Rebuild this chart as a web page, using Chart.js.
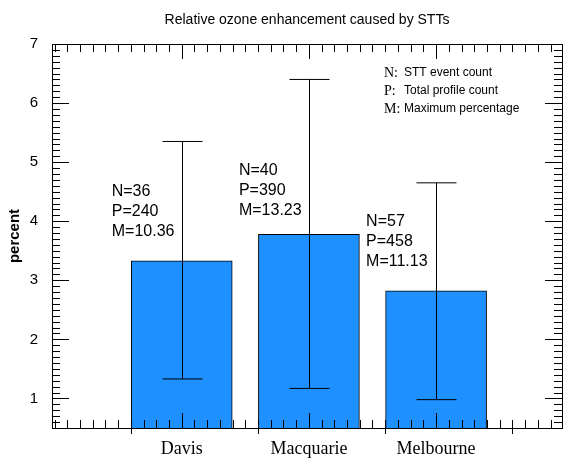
<!DOCTYPE html>
<html><head><meta charset="utf-8">
<script src="https://cdn.jsdelivr.net/npm/chart.js@4"></script>
<style>html,body{margin:0;background:#fff}#c{display:block}</style>
</head><body>
<div style="width:585px;height:464px"><canvas id="c"></canvas></div>
<script>
const sites = ['Davis', 'Macquarie', 'Melbourne'];
const positions = [1, 2, 3];
const means = [3.33, 3.78, 2.82];
const errLow = [1.33, 1.17, 0.98];
const errHigh = [5.35, 6.40, 4.65];
const nCounts = [36, 40, 57];
const pCounts = [240, 390, 458];
const maxPct = [10.36, 13.23, 11.13];
const yTicks = [1, 2, 3, 4, 5, 6, 7];

const sans = '"Liberation Sans", Arial, sans-serif';
const serif = '"Liberation Serif", "Times New Roman", serif';

const extras = {
  id: 'extras',
  afterDatasetsDraw(chart) {
    const {ctx, chartArea: a, scales: {x, y}} = chart;
    ctx.save();
    ctx.strokeStyle = '#000';
    ctx.lineWidth = 1;
    // error bars
    positions.forEach((p, i) => {
      const cx = Math.round(x.getPixelForValue(p)) + 0.5;
      const lo = y.getPixelForValue(errLow[i]), hi = y.getPixelForValue(errHigh[i]);
      ctx.beginPath();
      ctx.moveTo(cx, lo); ctx.lineTo(cx, hi);
      ctx.moveTo(cx - 20, lo); ctx.lineTo(cx + 20, lo);
      ctx.moveTo(cx - 20, hi); ctx.lineTo(cx + 20, hi);
      ctx.stroke();
    });
    // frame
    ctx.strokeRect(a.left + 0.5, a.top + 0.5, a.right - a.left, a.bottom - a.top);
    ctx.beginPath();
    // y ticks
    for (let v = 0.5; v <= 7.001; v += 0.1) {
      const py = Math.round(y.getPixelForValue(v)) + 0.5;
      const major = Math.abs(v - Math.round(v)) < 0.01;
      const len = major ? 17 : 8;
      ctx.moveTo(a.left, py); ctx.lineTo(a.left + len, py);
      ctx.moveTo(a.right, py); ctx.lineTo(a.right - len, py);
    }
    // x ticks
    for (let v = 0; v <= 3.99; v += 0.1) {
      const px = Math.round(x.getPixelForValue(v)) + 0.5;
      const r = Math.round(v * 10) / 10;
      const centre = positions.includes(r);
      const len = centre ? 15 : 8;
      ctx.moveTo(px, a.bottom); ctx.lineTo(px, a.bottom - len);
      ctx.moveTo(px, a.top); ctx.lineTo(px, a.top + len);
      const frac = Math.round((r - Math.floor(r)) * 10);
      if (frac === 6) {
        ctx.moveTo(px, a.bottom); ctx.lineTo(px, a.bottom + 6);
      }
    }
    ctx.stroke();
    // annotations
    ctx.fillStyle = '#000';
    ctx.font = '16px ' + sans;
    ctx.textBaseline = 'middle';
    const topY = [4.5, 4.85, 4.0];
    positions.forEach((p, i) => {
      const lx = x.getPixelForValue(p) - 70;
      const y0 = y.getPixelForValue(topY[i]);
      ctx.fillText('N=' + nCounts[i], lx, y0);
      ctx.fillText('P=' + pCounts[i], lx, y0 + 20);
      ctx.fillText('M=' + maxPct[i], lx, y0 + 40);
    });
    // key
    const keys = [['N:', 'STT event count'], ['P:', 'Total profile count'], ['M:', 'Maximum percentage']];
    keys.forEach((k, i) => {
      const ky = 73 + i * 18;
      ctx.font = '14px ' + serif;
      ctx.fillText(k[0], 384, ky);
      ctx.font = '12px ' + sans;
      ctx.fillText(k[1], 404, ky);
    });
    // title
    ctx.font = '14px ' + sans;
    ctx.textAlign = 'center';
    ctx.fillText('Relative ozone enhancement caused by STTs', (a.left + a.right) / 2, 20);
    ctx.restore();
  }
};

new Chart(document.getElementById('c'), {
  type: 'bar',
  data: {
    datasets: [{
      data: positions.map((p, i) => ({x: p, y: means[i]})),
      backgroundColor: '#1e90ff',
      borderColor: '#000',
      borderWidth: 1,
      borderSkipped: false,
      barThickness: 101
    }]
  },
  options: {
    responsive: true,
    maintainAspectRatio: false,
    animation: false,
    layout: {padding: {top: 44, right: 23, left: 6, bottom: 0}},
    plugins: {legend: {display: false}, tooltip: {enabled: false}},
    scales: {
      x: {
        type: 'linear', min: -0.02, max: 3.99, offset: false,
        grid: {display: false}, border: {display: false},
        afterBuildTicks: s => { s.ticks = positions.map(v => ({value: v})); },
        afterFit: s => { s.height = 36; },
        ticks: {
          callback: (v) => sites[positions.indexOf(v)],
          color: '#000', font: {family: serif, size: 18}, padding: 2, maxRotation: 0
        }
      },
      y: {
        min: 0.5, max: 7,
        grid: {display: false}, border: {display: false},
        afterBuildTicks: s => { s.ticks = yTicks.map(v => ({value: v})); },
        afterFit: s => { s.width = 46; },
        ticks: {color: '#000', font: {family: sans, size: 15}, padding: 6},
        title: {display: true, text: 'percent', color: '#000', font: {family: sans, size: 15, weight: 'bold'}, padding: 0}
      }
    }
  },
  plugins: [extras]
});
</script>
</body></html>
